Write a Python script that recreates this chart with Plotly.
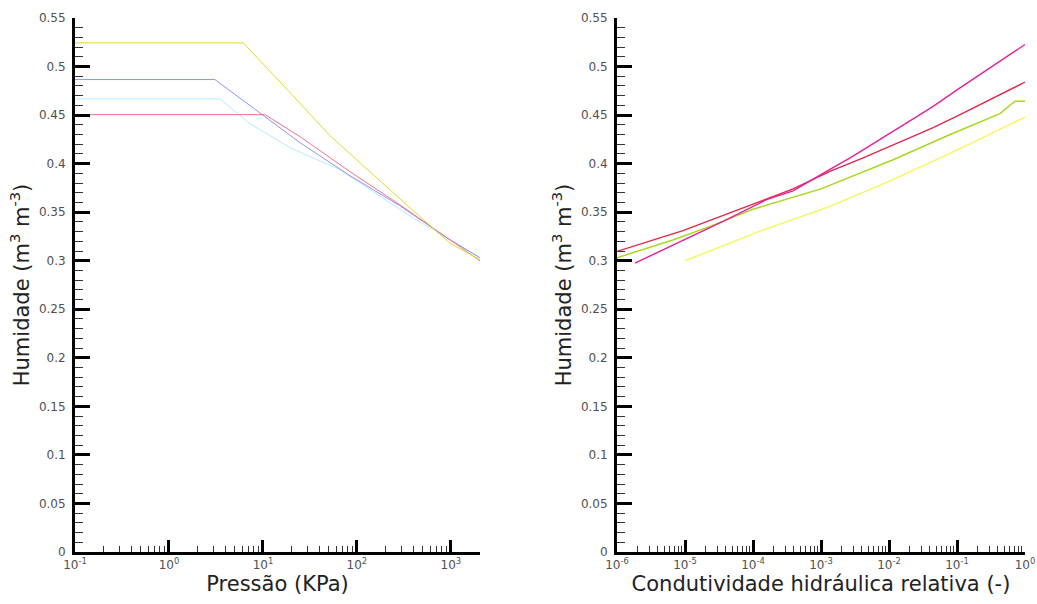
import plotly.graph_objects as go

# ---------------- Left panel: retention curves (Pressão vs Humidade) ----------------
p_yellow = [0.1, 6.17, 20.8, 51.6, 286, 975, 2037]
h_yellow = [0.5244, 0.5244, 0.4701, 0.4289, 0.3639, 0.3182, 0.301]

p_blue = [0.1, 3.08, 24.8, 84.3, 286, 906, 2037]
h_blue = [0.4866, 0.4866, 0.4216, 0.3876, 0.3567, 0.3237, 0.3031]

p_cyan = [0.1, 3.49, 7.28, 19.4, 65.9, 394, 2037]
h_cyan = [0.4667, 0.4667, 0.4412, 0.4165, 0.3938, 0.3443, 0.3031]

p_red = [0.1, 10.5, 24.8, 84.3, 286, 900, 2037]
h_red = [0.4505, 0.4505, 0.4278, 0.3918, 0.3577, 0.3237, 0.300]

# ---------------- Right panel: relative hydraulic conductivity vs Humidade ----------------
k_magenta = [1.84e-6, 3.63e-5, 1.58e-4, 3.89e-4, 1.35e-3, 2.69e-3, 1.82e-2, 4.47e-2, 0.1, 0.302, 1.0]
h_magenta = [0.2976, 0.3405, 0.3629, 0.372, 0.394, 0.406, 0.442, 0.459, 0.476, 0.4986, 0.5227]

k_red = [1.0e-6, 9.33e-6, 1.12e-4, 3.89e-4, 1.35e-3, 4.17e-3, 4.47e-2, 0.123, 1.0]
h_red_k = [0.3096, 0.331, 0.3595, 0.374, 0.392, 0.406, 0.437, 0.452, 0.484]

k_green = [1.0e-6, 6.76e-6, 2.34e-5, 1.0e-4, 1.0e-3, 1.15e-2, 7.94e-2, 0.427, 0.713, 1.0]
h_green = [0.303, 0.3216, 0.3354, 0.353, 0.374, 0.404, 0.430, 0.4515, 0.4643, 0.4643]

k_yellow = [1.0e-5, 1.12e-4, 1.35e-3, 1.02e-2, 0.1, 1.0]
h_yellow_k = [0.300, 0.329, 0.356, 0.382, 0.414, 0.448]

x1_ticks = [0.1, 1, 10, 100, 1000]
x1_text = ["10<sup>-1</sup>", "10<sup>0</sup>", "10<sup>1</sup>", "10<sup>2</sup>", "10<sup>3</sup>"]
x2_ticks = [1e-6, 1e-5, 1e-4, 1e-3, 1e-2, 1e-1, 1]
x2_text = ["10<sup>-6</sup>", "10<sup>-5</sup>", "10<sup>-4</sup>", "10<sup>-3</sup>",
           "10<sup>-2</sup>", "10<sup>-1</sup>", "10<sup>0</sup>"]

fig = go.Figure()

left = [
    (p_cyan, h_cyan, "#b4ecfa"),
    (p_blue, h_blue, "#8a94ff"),
    (p_red, h_red, "#f0708e"),
    (p_yellow, h_yellow, "#dcdc28"),
]
for x, y, c in left:
    fig.add_trace(go.Scatter(x=x, y=y, mode="lines", line=dict(color=c, width=1),
                             xaxis="x", yaxis="y", showlegend=False))

right = [
    (k_yellow, h_yellow_k, "#f6f65a"),
    (k_green, h_green, "#a6d81e"),
    (k_red, h_red_k, "#e2284a"),
    (k_magenta, h_magenta, "#e2209c"),
]
for x, y, c in right:
    fig.add_trace(go.Scatter(x=x, y=y, mode="lines", line=dict(color=c, width=1.4),
                             xaxis="x2", yaxis="y2", showlegend=False))

tickfont = dict(family="DejaVu Sans", size=12, color="#505050")
titlefont = dict(family="DejaVu Sans", size=21, color="#222222")

def xax(domain, rng, tv, tt, title, anchor):
    return dict(domain=domain, type="log", range=rng, anchor=anchor, automargin=False,
                tickmode="array", tickvals=tv, ticktext=tt,
                ticks="inside", ticklen=12, tickwidth=3, tickcolor="black",
                minor=dict(ticks="inside", ticklen=6, tickwidth=1, tickcolor="#333",
                           dtick="D1", showgrid=False),
                showline=True, linewidth=3, linecolor="black",
                showgrid=False, zeroline=False, tickfont=tickfont,
                title=dict(text=title, font=titlefont, standoff=2))

def yax(domain_anchor):
    return dict(domain=[0, 1], range=[0, 0.55], anchor=domain_anchor, automargin=False,
                tickmode="linear", tick0=0, dtick=0.05,
                ticks="inside", ticklen=15, tickwidth=3, tickcolor="black",
                minor=dict(ticks="inside", ticklen=8, tickwidth=1, tickcolor="#333",
                           dtick=0.01, showgrid=False),
                showline=True, linewidth=3, linecolor="black",
                showgrid=False, zeroline=False, tickfont=tickfont,
                ticklabelstandoff=4,
                title=dict(text="Humidade (m<sup>3</sup> m<sup>-3</sup>)", font=titlefont, standoff=4))

fig.update_layout(
    width=1037, height=604,
    margin=dict(l=0, r=0, t=18, b=52, autoexpand=False),
    paper_bgcolor="white", plot_bgcolor="white",
    xaxis=xax([75/1037, 480/1037], [-1, 3.31], x1_ticks, x1_text, "Pressão (KPa)", "y"),
    xaxis2=xax([617/1037, 1025/1037], [-6, 0], x2_ticks, x2_text,
               "Condutividade hidráulica relativa (-)", "y2"),
    yaxis=yax("x"),
    yaxis2=yax("x2"),
)

fig.write_html("out.html")
